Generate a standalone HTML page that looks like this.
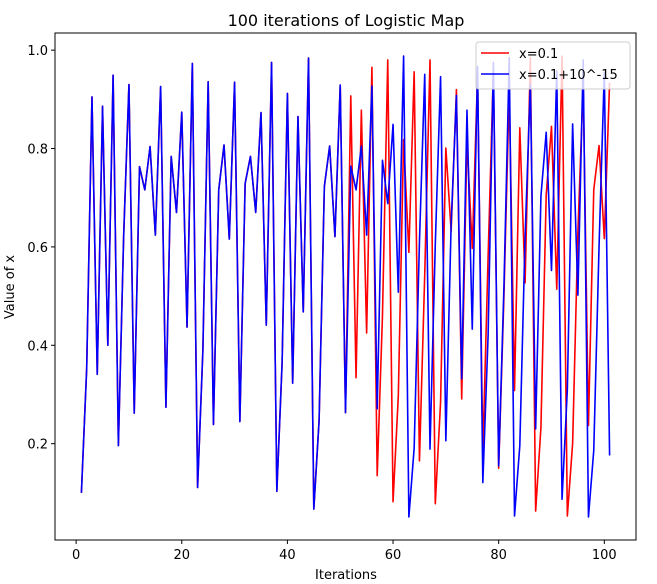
<!DOCTYPE html>
<html><head><meta charset="utf-8"><style>
html,body{margin:0;padding:0;background:#fff;}
svg{display:block;font-family:"DejaVu Sans","Liberation Sans",sans-serif;}
</style></head><body>
<svg id="chart" width="657" height="584" viewBox="0 0 657 584">
<rect x="0" y="0" width="657" height="584" fill="#fff"/>
<text x="346" y="26" text-anchor="middle" font-size="16" fill="#000">100 iterations of Logistic Map</text>
<g id="plot"></g>
<g id="axes"></g>
<text x="346" y="579" text-anchor="middle" font-size="13">Iterations</text>
<text x="14" y="287" text-anchor="middle" font-size="13" transform="rotate(-90 14 287)">Value of x</text>
<g>
<rect x="476" y="42" width="154" height="47" rx="3" fill="#fff" fill-opacity="0.8" stroke="#ccc"/>
<line x1="481" y1="53" x2="509" y2="53" stroke="red" stroke-width="1.6"/>
<text x="519" y="58" font-size="13">x=0.1</text>
<line x1="481" y1="74" x2="509" y2="74" stroke="blue" stroke-width="1.6"/>
<text x="519" y="79" font-size="13">x=0.1+10^-15</text>
</g>
</svg>
<script>
const common = [0.1,0.353,0.905,0.341,0.886,0.40,0.949,0.196,0.622,0.93,0.262,0.763,0.716,0.804,0.624,0.926,0.274,0.784,0.670,0.874,0.437,0.973,0.111,0.39,0.936,0.239,0.716,0.807,0.616,0.935,0.245,0.729,0.784,0.670,0.873,0.441,0.975,0.103,0.365,0.912,0.323,0.865,0.468,0.984,0.067,0.247,0.723,0.805,0.621,0.929];
const redTail = [0.263,0.907,0.334,0.878,0.425,0.965,0.135,0.46,0.980,0.082,0.297,0.818,0.589,0.956,0.165,0.544,0.980,0.078,0.284,0.801,0.632,0.92,0.291,0.815,0.597,0.95,0.18,0.58,0.96,0.15,0.5,0.92,0.308,0.842,0.527,0.985,0.063,0.233,0.706,0.845,0.514,0.988,0.053,0.2,0.63,0.93,0.237,0.716,0.806,0.617,0.934];
const blueTail = [0.263,0.764,0.716,0.805,0.624,0.927,0.271,0.776,0.688,0.849,0.508,0.988,0.051,0.191,0.61,0.951,0.189,0.605,0.946,0.206,0.646,0.908,0.332,0.878,0.433,0.967,0.121,0.42,0.975,0.155,0.52,0.985,0.053,0.196,0.62,0.93,0.23,0.703,0.833,0.552,0.958,0.087,0.31,0.850,0.502,0.98,0.051,0.186,0.6,0.955,0.176];
const xTicks = [0,20,40,60,80,100];
const yTicks = [0.2,0.4,0.6,0.8,1.0];
const yTickLabels = ["0.2","0.4","0.6","0.8","1.0"];

const NS="http://www.w3.org/2000/svg";
const L=55,R=636,T=33,B=540;
const redSeries = common.concat(redTail);
const blueSeries = common.concat(blueTail);
const n = redSeries.length;
const xmin=1, xmax=n;
const allVals = redSeries.concat(blueSeries);
const ymin=Math.min(...allVals), ymax=Math.max(...allVals);
const xr=xmax-xmin, yr=ymax-ymin;
const x0=xmin-0.05*xr, x1=xmax+0.05*xr, y0=ymin-0.05*yr, y1=ymax+0.05*yr;
function sx(v){return L+(v-x0)/(x1-x0)*(R-L);}
function sy(v){return B-(v-y0)/(y1-y0)*(B-T);}

const plot=document.getElementById('plot');
function drawLine(series,color,name){
  const p=document.createElementNS(NS,'polyline');
  p.setAttribute('points',series.map((v,i)=>sx(i+1).toFixed(2)+','+sy(v).toFixed(2)).join(' '));
  p.setAttribute('fill','none');p.setAttribute('stroke',color);p.setAttribute('stroke-width','1.6');
  p.setAttribute('stroke-linejoin','round');
  
  
  plot.appendChild(p);
}
drawLine(redSeries,'red','series-red-line');
drawLine(blueSeries,'blue','series-blue-line');

const axes=document.getElementById('axes');
const frame=document.createElementNS(NS,'rect');
frame.setAttribute('x',L);frame.setAttribute('y',T);frame.setAttribute('width',R-L);frame.setAttribute('height',B-T);
frame.setAttribute('fill','none');frame.setAttribute('stroke','#000');frame.setAttribute('stroke-width','1');


axes.appendChild(frame);
xTicks.forEach(t=>{
  const x=sx(t);
  const ln=document.createElementNS(NS,'line');
  ln.setAttribute('x1',x);ln.setAttribute('x2',x);ln.setAttribute('y1',B);ln.setAttribute('y2',B+4);ln.setAttribute('stroke','#000');
  
  
  axes.appendChild(ln);
  const tx=document.createElementNS(NS,'text');
  tx.setAttribute('x',x);tx.setAttribute('y',B+19);tx.setAttribute('text-anchor','middle');tx.setAttribute('font-size','13');
  tx.textContent=String(t);
  
  
  axes.appendChild(tx);
});
yTicks.forEach((t,i)=>{
  const y=sy(t);
  const ln=document.createElementNS(NS,'line');
  ln.setAttribute('x1',L-4);ln.setAttribute('x2',L);ln.setAttribute('y1',y);ln.setAttribute('y2',y);ln.setAttribute('stroke','#000');
  
  
  axes.appendChild(ln);
  const tx=document.createElementNS(NS,'text');
  tx.setAttribute('x',L-7);tx.setAttribute('y',y+5);tx.setAttribute('text-anchor','end');tx.setAttribute('font-size','13');
  tx.textContent=yTickLabels[i];
  
  
  axes.appendChild(tx);
});
</script>
</body></html>
